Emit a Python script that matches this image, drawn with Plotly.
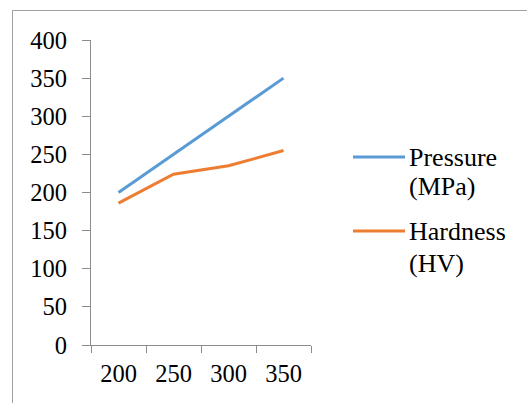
import plotly.graph_objects as go

categories = ["200", "250", "300", "350"]
pressure = [200, 250, 300, 350]
hardness = [186, 224, 235, 255]
series_names = [("Pressure", "(MPa)"), ("Hardness", "(HV)")]
colors = ["#5B9BD5", "#ED7D31"]

W, H = 527, 403
L, R, T, B = 91, 216, 40, 58
PW, PH = W - L - R, H - T - B

def px(x):
    return (x - L) / PW

def py(y):
    return (H - B - y) / PH

fig = go.Figure()
for vals, name, c in zip([pressure, hardness], series_names, colors):
    fig.add_trace(go.Scatter(x=categories, y=vals, mode="lines",
                             line=dict(color=c, width=3), name=" ".join(name),
                             showlegend=False))

FAM = "Liberation Serif"
font = dict(family=FAM, size=24, color="#000000")
axis_color = "#8c8c8c"

fig.update_layout(
    width=W, height=H,
    margin=dict(l=L, r=R, t=T, b=B),
    paper_bgcolor="white", plot_bgcolor="white",
    font=font,
    xaxis=dict(type="category", range=[-0.5, 3.5], tickson="boundaries",
               ticks="outside", ticklen=7,
               tickcolor=axis_color, showline=True, linecolor=axis_color, linewidth=1,
               showgrid=False, zeroline=False,
               tickfont=dict(family=FAM, size=24.5, color="#000000"),
               ticklabelstandoff=7),
    yaxis=dict(range=[0, 400], dtick=50, ticks="outside", ticklen=8,
               tickcolor=axis_color, showline=True, linecolor=axis_color, linewidth=1,
               showgrid=False, zeroline=False,
               tickfont=dict(family=FAM, size=24.5, color="#000000"),
               ticklabelstandoff=10),
)

# chart-area border
fig.add_shape(type="rect", xref="paper", yref="paper",
              x0=px(12.5), x1=px(560), y0=py(430), y1=py(10.5),
              line=dict(color="#a0a0a0", width=1), fillcolor="rgba(0,0,0,0)", layer="below")

# manual legend
leg_y = [157, 231]
sub_y = [186, 263]
legfont = dict(family=FAM, size=26, color="#000000")
for (n1, n2), c, ly, sy in zip(series_names, colors, leg_y, sub_y):
    fig.add_shape(type="line", xref="paper", yref="paper",
                  x0=px(353), x1=px(405), y0=py(ly), y1=py(ly),
                  line=dict(color=c, width=3))
    fig.add_annotation(text=n1, xref="paper", yref="paper", x=px(407), y=py(ly),
                       xanchor="left", yanchor="middle", showarrow=False, font=legfont)
    fig.add_annotation(text=n2, xref="paper", yref="paper", x=px(407), y=py(sy),
                       xanchor="left", yanchor="middle", showarrow=False, font=legfont)

fig.write_html("out.html")
